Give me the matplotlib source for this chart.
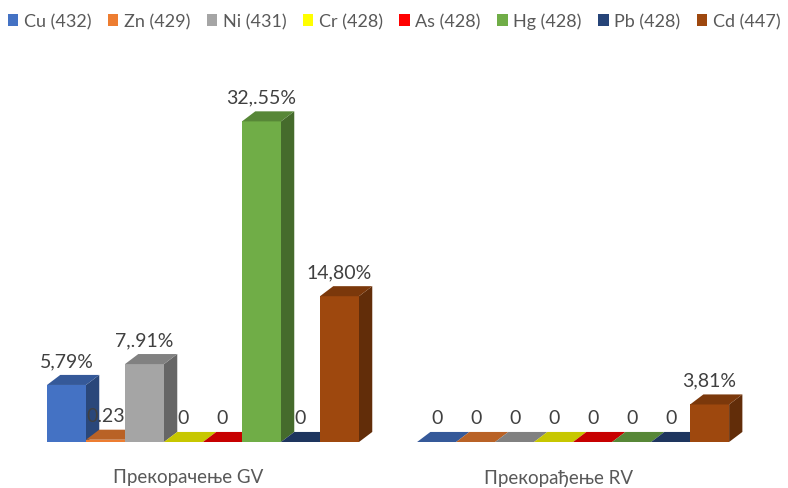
import matplotlib.pyplot as plt
from matplotlib.patches import Polygon, Patch
import numpy as np

plt.rcParams['font.family'] = ['Lato', 'DejaVu Sans']

metals = ['Cu (432)', 'Zn (429)', 'Ni (431)', 'Cr (428)', 'As (428)', 'Hg (428)', 'Pb (428)', 'Cd (447)']
colors = ['#4472C4', '#ED7D31', '#A5A5A5', '#FFFF00', '#FF0000', '#70AD47', '#264478', '#9E480E']
groups = ['Прекорачење GV', 'Прекорађење RV']
gv_values = [5.79, 0.23, 7.91, 0, 0, 32.55, 0, 14.80]
rv_values = [0, 0, 0, 0, 0, 0, 0, 3.81]
gv_labels = ['5,79%', '0.23', '7,.91%', '0', '0', '32,.55%', '0', '14,80%']
rv_labels = ['0', '0', '0', '0', '0', '0', '0', '3,81%']

values = [gv_values, rv_values]
labels = [gv_labels, rv_labels]

# fake 3d depth (data units)
dx = 0.34
dy = 1.02
group_gap = 9.49


def shade(c, f):
    r, g, b = [int(c[i:i + 2], 16) / 255 for i in (1, 3, 5)]
    return (r * f, g * f, b * f)


def draw_bar(ax, x, h, color, z):
    w = 1.0
    front = Polygon([(x, 0), (x + w, 0), (x + w, h), (x, h)], closed=True,
                    facecolor=color, edgecolor='none', zorder=z)
    top = Polygon([(x, h), (x + w, h), (x + w + dx, h + dy), (x + dx, h + dy)], closed=True,
                  facecolor=shade(color, 0.78), edgecolor='none', zorder=z)
    side = Polygon([(x + w, 0), (x + w + dx, dy), (x + w + dx, h + dy), (x + w, h)], closed=True,
                   facecolor=shade(color, 0.62), edgecolor='none', zorder=z)
    ax.add_patch(front)
    ax.add_patch(side)
    ax.add_patch(top)


fig = plt.figure(figsize=(7.88, 4.89), dpi=100)
ax = fig.add_axes([0, 0, 1, 1])
ax.set_xlim(-47 / 39, (788 - 47) / 39)
ax.set_ylim(-46 / 9.85, 443 / 9.85)
ax.axis('off')

z = 2
for g in range(len(groups)):
    start = g * group_gap
    for i in range(len(metals)):
        x = start + i
        h = values[g][i]
        draw_bar(ax, x, h, colors[i], z)
        ax.text(x + 0.5, h + dy + 0.6, labels[g][i], ha='center', va='bottom',
                fontsize=14, color='#404040', zorder=100)
        z += 1
    ax.text(start + 4 - 0.37, -3.55, groups[g], ha='center', va='center',
            fontsize=13.5, color='#595959')

handles = [Patch(facecolor=c, edgecolor='none') for c in colors]
fig.legend(handles, metals, loc='center', bbox_to_anchor=(0.5, 0.955), ncol=8,
           frameon=False, fontsize=13, handlelength=0.6, handleheight=0.6,
           handletextpad=0.3, columnspacing=0.9, labelcolor='#595959')

plt.savefig('out.png', dpi=100)
